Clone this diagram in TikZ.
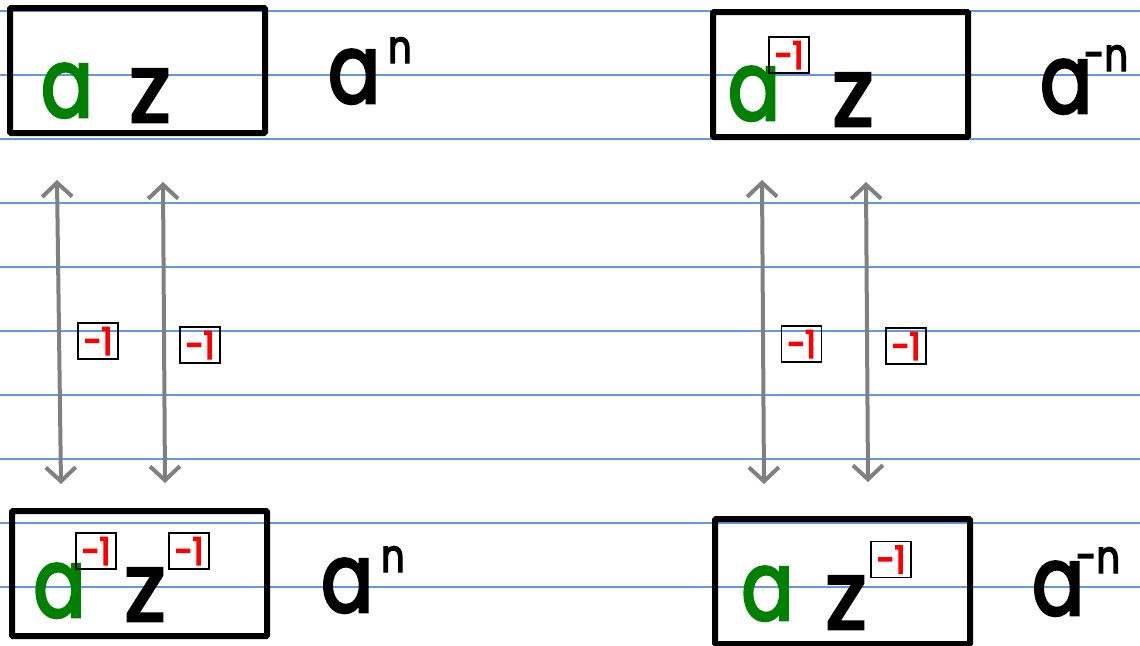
\documentclass[tikz,border=0pt]{standalone}
\usepackage{fontspec}
\setmainfont{Poppins}
\newfontfamily\handfont{Poppins}[FakeStretch=0.8,FakeBold=3]
\newfontfamily\zedfont{Poppins}[FakeStretch=0.95,FakeBold=3]
\newfontfamily\redfont{Poppins}[FakeStretch=0.85,FakeBold=4]
\usetikzlibrary{arrows.meta}
\definecolor{ruleblue}{RGB}{100,150,225}
\definecolor{agreen}{RGB}{0,128,0}
\definecolor{ared}{RGB}{255,0,0}
\definecolor{agray}{RGB}{128,128,128}
\newcommand\bigfont{\handfont\fontsize{96}{96}\selectfont}
\newcommand\zbigfont{\zedfont\fontsize{96}{96}\selectfont}
\newcommand\expfont{\fontsize{46}{46}\selectfont}
\begin{document}
\begin{tikzpicture}[x=1pt,y=-1pt,
  rulel/.style={ruleblue,line width=1.3pt},
  bigbox/.style={draw=black,line width=6pt,minimum width=255pt,minimum height=125pt,inner sep=0pt,rounded corners=1pt},
  letter/.style={font=\bigfont,inner sep=0pt,anchor=base},
  zletter/.style={font=\zbigfont,inner sep=0pt,anchor=base},
  lbl/.style={font=\bigfont,inner sep=0pt,anchor=base west},
  minibox/.style={draw=black,line width=1.5pt,minimum width=40pt,minimum height=36pt,inner sep=0pt,text=ared,font=\redfont\fontsize{38}{38}\selectfont},
  garrow/.style={draw=agray,line width=4pt,{Straight Barb[length=14pt,width=30pt]}-{Straight Barb[length=14pt,width=30pt]}}
]
\useasboundingbox (0,0) rectangle (1140,645);
\fill[white] (0,0) rectangle (1140,645);
\foreach \yy in {11,75,139,203,267,331,395,459,523,587}
  \draw[rulel] (0,\yy) -- (1140,\yy);

% top left
\node[bigbox] (b1) at (137.5,70.5) {};
\node[letter,text=agreen] (a1) at (67,117) {a};
\node[zletter] (z1) at (150,122) {z};
\node[lbl] (t1) at (328,103) {a\kern8pt\raisebox{40pt}{\expfont n}};

% top right
\node[bigbox] (b2) at (840.5,74.5) {};
\node[letter,text=agreen] (a2) at (754,120) {a};
\node[minibox] (m2) at (789,55) {-1};
\node[zletter] (z2) at (853,126) {z};
\node[lbl] (t2) at (1040,113) {a\kern-8pt\raisebox{42pt}{\expfont -n}};

% bottom left
\node[bigbox] (b3) at (139.5,573.5) {};
\node[letter,text=agreen] (a3) at (59.5,617) {a};
\node[minibox] (m3) at (96,551) {-1};
\node[zletter] (z3) at (145,621) {z};
\node[minibox] (m4) at (189,551) {-1};
\node[lbl] (t3) at (321,612) {a\kern8pt\raisebox{40pt}{\expfont n}};

% bottom right
\node[bigbox] (b4) at (842.5,581.5) {};
\node[letter,text=agreen] (a4) at (767.5,620) {a};
\node[zletter] (z4) at (846,629) {z};
\node[minibox] (m5) at (891,559.5) {-1};
\node[lbl] (t4) at (1032,615) {a\kern-8pt\raisebox{42pt}{\expfont -n}};

% arrows left
\coordinate (u1) at (57,180);
\coordinate (d1) at (61,484);
\coordinate (u2) at (163,182);
\coordinate (d2) at (165,483);
\draw[garrow] (u1) -- (d1);
\draw[garrow] (u2) -- (d2);
\node[minibox] (m6) at (98,341) {-1};
\node[minibox] (m7) at (200,345) {-1};

% arrows right
\coordinate (u3) at (762,180);
\coordinate (d3) at (764,484);
\coordinate (u4) at (866,182);
\coordinate (d4) at (868,482);
\draw[garrow] (u3) -- (d3);
\draw[garrow] (u4) -- (d4);
\node[minibox] (m8) at (801.5,344) {-1};
\node[minibox] (m9) at (906,346) {-1};
\end{tikzpicture}
\end{document}
